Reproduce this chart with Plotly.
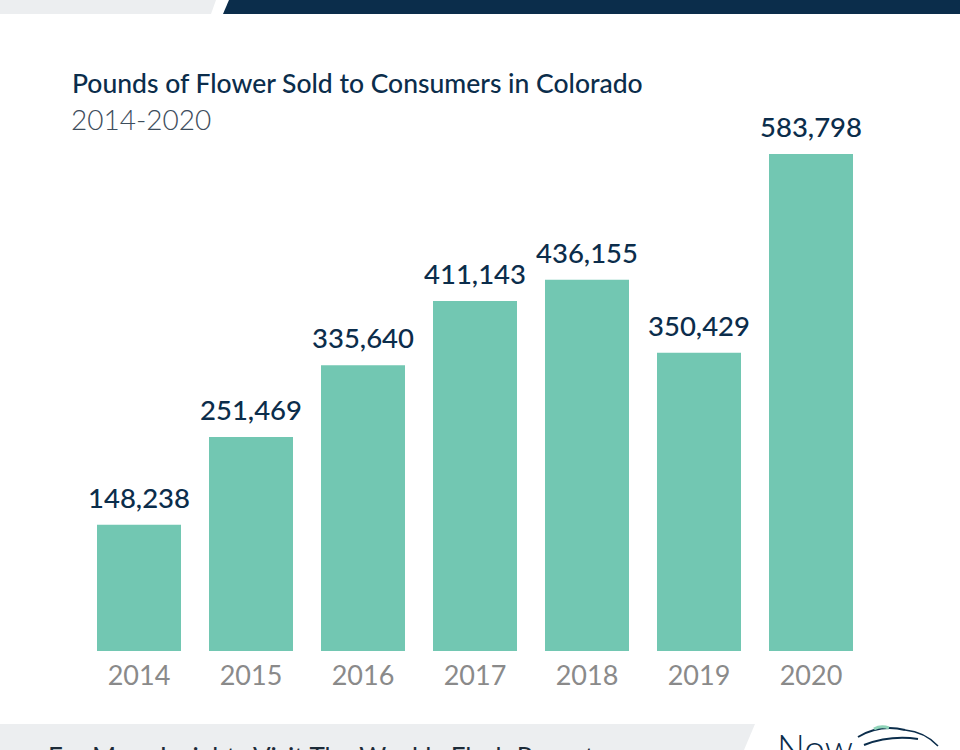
import plotly.graph_objects as go

years = ["2014", "2015", "2016", "2017", "2018", "2019", "2020"]
pounds = [148238, 251469, 335640, 411143, 436155, 350429, 583798]
value_labels = ["148,238", "251,469", "335,640", "411,143", "436,155", "350,429", "583,798"]

title_text = "Pounds of Flower Sold to Consumers in Colorado"
subtitle_text = "2014-2020"
footer_text = "For More Insights Visit The Weekly Flash Report"
logo_text = "Now"

W, H = 960, 750
ML, MR, MT, MB = 83, 93, 100, 99
PW, PH = W - ML - MR, H - MT - MB

NAVY = "#0b2d4b"
TEAL = "#72c7b2"
LIGHT = "#eceef0"


def px(x):
    return (x - ML) / PW


def py(y):
    return (H - MB - y) / PH


def poly(points):
    return "M " + " L ".join(f"{px(a):.5f},{py(b):.5f}" for a, b in points) + " Z"


fig = go.Figure()
fig.add_trace(go.Bar(
    x=years, y=pounds, marker=dict(color=TEAL, line=dict(width=0)),
    hoverinfo="skip",
))

annotations = []
for i, (v, lab) in enumerate(zip(pounds, value_labels)):
    annotations.append(dict(
        x=i, y=v, xref="x", yref="y", text=lab, showarrow=False,
        yanchor="bottom", yshift=9,
        font=dict(family="Lato", size=27.5, color=NAVY, weight=500),
    ))

annotations += [
    dict(x=px(70), y=py(65), xref="paper", yref="paper", xanchor="left", yanchor="top",
         text=title_text, showarrow=False,
         font=dict(family="Lato", size=26.5, color=NAVY, weight=500)),
    dict(x=px(69), y=py(100), xref="paper", yref="paper", xanchor="left", yanchor="top",
         text=subtitle_text, showarrow=False,
         font=dict(family="Lato", size=28, color="#3d4d5c", weight=300)),
    dict(x=px(46), y=py(739.5), xref="paper", yref="paper", xanchor="left", yanchor="top",
         text=footer_text, showarrow=False,
         font=dict(family="Lato", size=26, color="#1d2b38")),
    dict(x=px(775), y=py(723), xref="paper", yref="paper", xanchor="left", yanchor="top",
         text=logo_text, showarrow=False,
         font=dict(family="Lato", size=37, color=NAVY, weight=300)),
]

shapes = [
    dict(type="path", xref="paper", yref="paper", layer="below",
         path=poly([(0, 0), (216, 0), (211, 14), (0, 14)]),
         fillcolor=LIGHT, line=dict(width=0)),
    dict(type="path", xref="paper", yref="paper", layer="below",
         path=poly([(229, 0), (960, 0), (960, 14), (223, 14)]),
         fillcolor=NAVY, line=dict(width=0)),
    dict(type="path", xref="paper", yref="paper", layer="below",
         path=poly([(0, 724), (755, 724), (744, 750), (0, 750)]),
         fillcolor=LIGHT, line=dict(width=0)),
    # small logo swooshes
    dict(type="path", xref="paper", yref="paper",
         path=f"M {px(858):.5f},{py(737):.5f} Q {px(880):.5f},{py(724):.5f} {px(905):.5f},{py(730):.5f}",
         line=dict(color=NAVY, width=2)),
    dict(type="path", xref="paper", yref="paper",
         path=f"M {px(864):.5f},{py(745):.5f} Q {px(890):.5f},{py(735):.5f} {px(918):.5f},{py(739):.5f}",
         line=dict(color=NAVY, width=2)),
    dict(type="path", xref="paper", yref="paper",
         path=f"M {px(905):.5f},{py(730):.5f} Q {px(925):.5f},{py(732):.5f} {px(938):.5f},{py(746):.5f}",
         line=dict(color=NAVY, width=1.5)),
    dict(type="path", xref="paper", yref="paper",
         path=f"M {px(874):.5f},{py(729):.5f} Q {px(881):.5f},{py(725):.5f} {px(889):.5f},{py(728):.5f}",
         line=dict(color="#8fd3b8", width=3)),
]

fig.update_layout(
    width=W, height=H,
    margin=dict(l=ML, r=MR, t=MT, b=MB, pad=0),
    paper_bgcolor="white", plot_bgcolor="white",
    showlegend=False,
    bargap=0.25,
    xaxis=dict(
        type="category", range=[-0.5, 6.5], showgrid=False, zeroline=False,
        showline=False, ticks="", ticklabelstandoff=6,
        tickfont=dict(family="Lato", size=27, color="#8a8a8a"),
        fixedrange=True,
    ),
    yaxis=dict(
        range=[0, PH * 1174.6], visible=False, showgrid=False, zeroline=False,
        fixedrange=True,
    ),
    annotations=annotations,
    shapes=shapes,
)

fig.write_html(
    "out.html",
    config={"displayModeBar": False},
    post_script="document.body.style.margin='0';document.body.style.overflow='hidden';",
)
